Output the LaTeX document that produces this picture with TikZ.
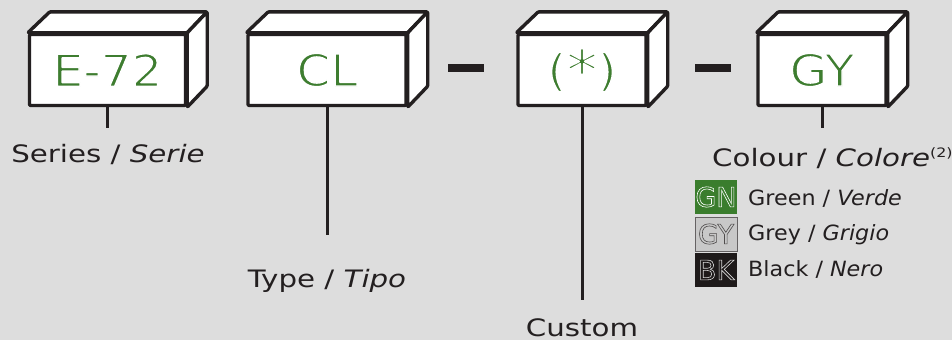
\documentclass[tikz,border=0pt]{standalone}
\usepackage{fontspec}
\setmainfont{DejaVu Sans}[FakeStretch=1.22]
\newfontfamily\boxfont{DejaVu Sans}[FakeStretch=1.1]
\newfontfamily\legfont{DejaVu Sans}[FakeStretch=1.06]
\newfontfamily\swfont{DejaVu Sans}
\usetikzlibrary{calc}
\definecolor{bg}{RGB}{221,221,221}
\definecolor{ink}{RGB}{35,31,32}
\definecolor{grn}{RGB}{62,125,48}
\definecolor{swgrn}{RGB}{58,125,45}
\definecolor{swgry}{RGB}{200,200,200}
\definecolor{swblk}{RGB}{30,26,26}
\newcommand{\outl}[1]{\special{pdf:literal direct 1 Tr 0.6 w}#1\special{pdf:literal direct 0 Tr 0.4 w}}
\newcommand{\thin}[1]{\special{pdf:literal direct 2 Tr 1 G 1.4 w}#1\special{pdf:literal direct 0 Tr 0.4 w}}
\begin{document}
\begin{tikzpicture}[x=1pt,y=-1pt]
\tikzset{
 face/.style={draw=ink, line width=3.4pt, fill=white, line join=round, rounded corners=1pt},
 front/.style={face, minimum height=71pt, inner sep=0pt, text=grn, font=\boxfont\fontsize{44}{44}\selectfont},
 stem/.style={draw=ink, line width=3pt},
 lab/.style={text=ink, inner sep=0pt, font=\fontsize{24}{28}\selectfont, anchor=base},
 leg/.style={text=ink, inner sep=0pt, font=\legfont\fontsize{21}{24}\selectfont, anchor=base west},
 swatch/.style={minimum width=42pt, minimum height=34pt, inner sep=0pt, font=\swfont\fontsize{27}{27}\selectfont},
 dashbar/.style={fill=ink, minimum width=36pt, minimum height=7.5pt, inner sep=0pt}
}
\fill[bg] (0,0) rectangle (952,340);
\useasboundingbox (0,0) rectangle (952,340);

% boxes
\node[front, minimum width=156pt] (b1) at (107.5,70) {\thin{E-72}};
\node[front, minimum width=158pt] (b2) at (327,70) {\thin{CL}};
\node[front, minimum width=128pt] (b3) at (582,70) {\thin{(}\raisebox{-5pt}{\scalebox{1.3}{\thin{*}}}\thin{)}};
\node[front, minimum width=128pt] (b4) at (822,70) {\thin{GY}};
\foreach \b in {b1,b2,b3,b4}{
  \draw[face] (\b.north west) -- ($(\b.north west)+(22,-21)$) -- ($(\b.north east)+(20,-21)$) -- (\b.north east) -- cycle;
  \draw[face] (\b.north east) -- ($(\b.north east)+(20,-21)$) -- ($(\b.south east)+(20,-21)$) -- (\b.south east) -- cycle;
}

% dashes
\node[dashbar] (d1) at (466,68) {};
\node[dashbar] (d2) at (713,68) {};

% stems
\coordinate (e1) at (107.5,128);
\coordinate (e2) at (327,235);
\coordinate (e3) at (582,300);
\coordinate (e4) at (822,128);
\draw[stem] (b1.south) -- (e1);
\draw[stem] (b2.south) -- (e2);
\draw[stem] (b3.south) -- (e3);
\draw[stem] (b4.south) -- (e4);

% labels
\node[lab] (l1) at (108,162) {Series / \textit{Serie}};
\node[lab] (l2) at (327,287) {Type / \textit{Tipo}};
\node[lab] (l3) at (582,336) {Custom};
\node[lab, anchor=base west] (l4) at (712,166) {Colour / \textit{Colore}\raisebox{9pt}{\fontsize{13}{13}\selectfont(2)}};

% legend
\node[swatch, fill=swgrn, text=white] (s1) at (716,197) {\outl{GN}};
\node[swatch, fill=swgry, draw=ink!70, line width=1pt, text=ink!80] (s2) at (716,234) {\outl{GY}};
\node[swatch, fill=swblk, text=white!85!black] (s3) at (716,270) {\outl{BK}};
\node[leg] (t1) at (748,205) {Green / \textit{Verde}};
\node[leg] (t2) at (748,240) {Grey / \textit{Grigio}};
\node[leg] (t3) at (748,276) {Black / \textit{Nero}};
\end{tikzpicture}
\end{document}
